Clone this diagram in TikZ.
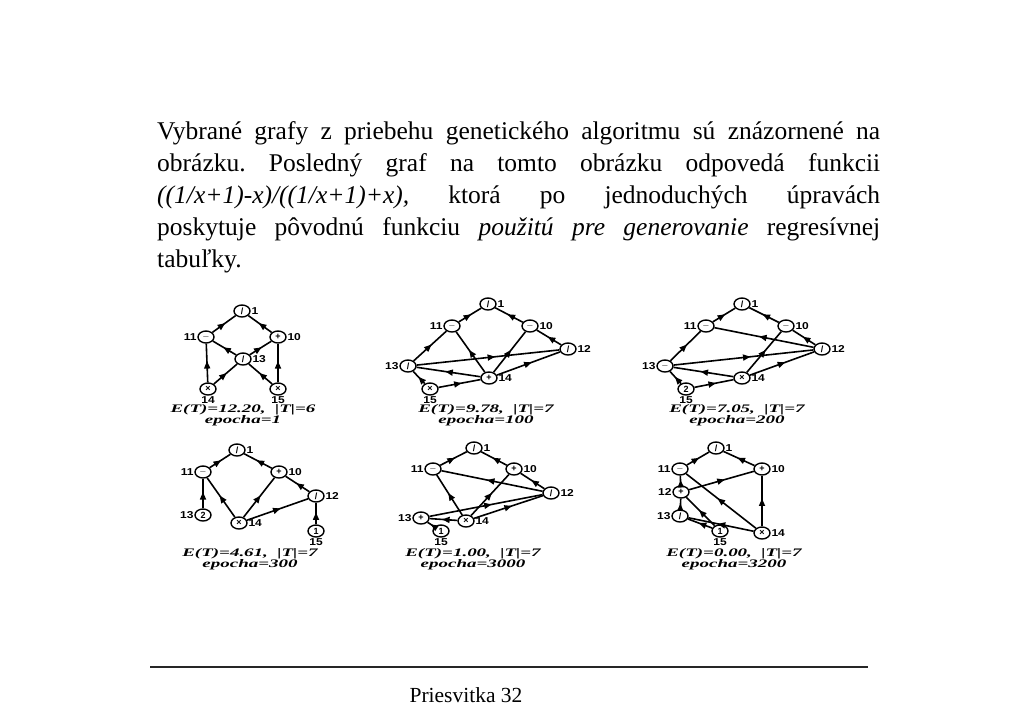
\documentclass[tikz,border=0pt]{standalone}
\usepackage{graphicx}
\usepackage{fontspec}
\setmainfont{Liberation Serif}
\setsansfont{Liberation Sans}
\frenchspacing
\usetikzlibrary{shapes.geometric,decorations.markings,arrows.meta}
\newcommand\lbx[1]{\scalebox{1.2}[1]{#1}}
\newcommand\capx[1]{\scalebox{1.65}[1]{#1}}
\tikzset{
  gn/.style={ellipse, draw, line width=1.4pt, minimum width=16pt, minimum height=12pt, inner sep=0pt, fill=white,
             font=\sffamily\bfseries\fontsize{9}{9}\selectfont},
  lab/.style={font=\sffamily\bfseries\fontsize{10}{10}\selectfont, inner sep=0.6pt},
  fl/.style={line width=1.6pt, postaction={decorate},
             decoration={markings, mark=at position 0.55 with {\arrow{Triangle[length=7.5pt,width=6pt]}}}},
  gcap/.style={font=\bfseries\itshape\fontsize{11.5}{11.5}\selectfont, inner sep=0pt},
  bodyline/.style={anchor=base west, inner sep=0pt, font=\fontsize{25.5}{30}\selectfont},
}
\begin{document}
\begin{tikzpicture}[x=1pt,y=-1pt]
\useasboundingbox (0,0) rectangle (1024,723);
% body text
\node[bodyline] (t1) at (157,139) {\makebox[723pt][s]{Vybrané grafy z priebehu genetického algoritmu sú znázornené na}};
\node[bodyline] (t2) at (157,171) {\makebox[723pt][s]{obrázku. Posledný graf na tomto obrázku odpovedá funkcii}};
\node[bodyline] (t3) at (157,203) {\makebox[723pt][s]{\itshape ((1/x+1)-x)/((1/x+1)+x), \upshape ktorá po jednoduchých úpravách}};
\node[bodyline] (t4) at (157,235) {\makebox[723pt][s]{poskytuje pôvodnú funkciu \itshape použitú pre generovanie \upshape regresívnej}};
\node[bodyline] (t5) at (157,267) {tabuľky.};

% ---------- Graph 1 ----------
\node[gn,label={[lab]right:\lbx{1}}] (a1) at (242,311) {/};
\node[gn,label={[lab]left:\lbx{11}}] (a11) at (206,337) {$-$};
\node[gn,label={[lab]right:\lbx{10}}] (a10) at (278,337) {+};
\node[gn,label={[lab]right:\lbx{13}}] (a13) at (243,359) {/};
\node[gn,label={[lab]below:\lbx{14}}] (a14) at (208,389) {×};
\node[gn,label={[lab]below:\lbx{15}}] (a15) at (278,389) {×};
\draw[fl] (a11) -- (a1);
\draw[fl] (a10) -- (a1);
\draw[fl] (a13) -- (a11);
\draw[fl] (a13) -- (a10);
\draw[fl] (a14) -- (a11);
\draw[fl] (a14) -- (a13);
\draw[fl] (a15) -- (a10);
\draw[fl] (a15) -- (a13);
\node[gcap] (ac1) at (243,410) {\capx{E(T)=12.20,\ \ |T|=6}};
\node[gcap] (ac2) at (243,421) {\capx{epocha=1}};

% ---------- Graph 2 ----------
\node[gn,label={[lab]right:\lbx{1}}] (b1) at (488,304) {/};
\node[gn,label={[lab]left:\lbx{11}}] (b11) at (452,326) {$-$};
\node[gn,label={[lab]right:\lbx{10}}] (b10) at (530,326) {$-$};
\node[gn,label={[lab]right:\lbx{12}}] (b12) at (568,349) {/};
\node[gn,label={[lab]left:\lbx{13}}] (b13) at (408,366) {/};
\node[gn,label={[lab]right:\lbx{14}}] (b14) at (489,378) {+};
\node[gn,label={[lab]below:\lbx{15}}] (b15) at (430,389) {×};
\draw[fl] (b11) -- (b1);
\draw[fl] (b10) -- (b1);
\draw[fl] (b13) -- (b11);
\draw[fl] (b14) -- (b11);
\draw[fl] (b14) -- (b10);
\draw[fl] (b12) -- (b10);
\draw[fl] (b13) -- (b12);
\draw[fl] (b14) -- (b13);
\draw[fl] (b14) -- (b12);
\draw[fl] (b15) -- (b13);
\draw[fl] (b15) -- (b14);
\node[gcap] (bc1) at (486,410) {\capx{E(T)=9.78,\ \ |T|=7}};
\node[gcap] (bc2) at (486,421) {\capx{epocha=100}};

% ---------- Graph 3 ----------
\node[gn,label={[lab]right:\lbx{1}}] (c1) at (742,304) {/};
\node[gn,label={[lab]left:\lbx{11}}] (c11) at (706,326) {$-$};
\node[gn,label={[lab]right:\lbx{10}}] (c10) at (786,326) {$-$};
\node[gn,label={[lab]right:\lbx{12}}] (c12) at (822,349) {/};
\node[gn,label={[lab]left:\lbx{13}}] (c13) at (665,366) {$-$};
\node[gn,label={[lab]right:\lbx{14}}] (c14) at (742,378) {×};
\node[gn,label={[lab]below:\lbx{15}}] (c15) at (686,389) {2};
\draw[fl] (c11) -- (c1);
\draw[fl] (c10) -- (c1);
\draw[fl] (c13) -- (c11);
\draw[fl] (c12) -- (c11);
\draw[fl] (c12) -- (c10);
\draw[fl] (c13) -- (c12);
\draw[fl] (c14) -- (c10);
\draw[fl] (c14) -- (c13);
\draw[fl] (c14) -- (c12);
\draw[fl] (c15) -- (c13);
\draw[fl] (c15) -- (c14);
\node[gcap] (cc1) at (737,410) {\capx{E(T)=7.05,\ \ |T|=7}};
\node[gcap] (cc2) at (737,421) {\capx{epocha=200}};

% ---------- Graph 4 ----------
\node[gn,label={[lab]right:\lbx{1}}] (d1) at (237,450) {/};
\node[gn,label={[lab]left:\lbx{11}}] (d11) at (203,472) {$-$};
\node[gn,label={[lab]right:\lbx{10}}] (d10) at (279,472) {+};
\node[gn,label={[lab]right:\lbx{12}}] (d12) at (316,496) {/};
\node[gn,label={[lab]left:\lbx{13}}] (d13) at (203,515) {2};
\node[gn,label={[lab]right:\lbx{14}}] (d14) at (239,523) {×};
\node[gn,label={[lab]below:\lbx{15}}] (d15) at (316,531) {1};
\draw[fl] (d11) -- (d1);
\draw[fl] (d10) -- (d1);
\draw[fl] (d12) -- (d10);
\draw[fl] (d14) -- (d11);
\draw[fl] (d14) -- (d10);
\draw[fl] (d14) -- (d12);
\draw[fl] (d13) -- (d11);
\draw[fl] (d15) -- (d12);
\node[gcap] (dc1) at (250,554) {\capx{E(T)=4.61,\ \ |T|=7}};
\node[gcap] (dc2) at (250,565) {\capx{epocha=300}};

% ---------- Graph 5 ----------
\node[gn,label={[lab]right:\lbx{1}}] (e1) at (474,448) {/};
\node[gn,label={[lab]left:\lbx{11}}] (e11) at (433,469) {$-$};
\node[gn,label={[lab]right:\lbx{10}}] (e10) at (514,469) {+};
\node[gn,label={[lab]right:\lbx{12}}] (e12) at (551,493) {/};
\node[gn,label={[lab]left:\lbx{13}}] (e13) at (421,518) {+};
\node[gn,label={[lab]right:\lbx{14}}] (e14) at (466,521) {×};
\node[gn,label={[lab]below:\lbx{15}}] (e15) at (441,531) {1};
\draw[fl] (e11) -- (e1);
\draw[fl] (e10) -- (e1);
\draw[fl] (e12) -- (e10);
\draw[fl] (e12) -- (e11);
\draw[fl] (e14) -- (e11);
\draw[fl] (e14) -- (e10);
\draw[fl] (e14) -- (e12);
\draw[fl] (e13) -- (e12);
\draw[fl] (e14) -- (e13);
\draw[fl] (e15) -- (e13);
\node[gcap] (ec1) at (473,554) {\capx{E(T)=1.00,\ \ |T|=7}};
\node[gcap] (ec2) at (473,565) {\capx{epocha=3000}};

% ---------- Graph 6 ----------
\node[gn,label={[lab]right:\lbx{1}}] (f1) at (716,448) {/};
\node[gn,label={[lab]left:\lbx{11}}] (f11) at (680,469) {$-$};
\node[gn,label={[lab]right:\lbx{10}}] (f10) at (762,469) {+};
\node[gn,label={[lab]left:\lbx{12}}] (f12) at (681,492) {+};
\node[gn,label={[lab]left:\lbx{13}}] (f13) at (680,516) {/};
\node[gn,label={[lab]below:\lbx{15}}] (f15) at (720,531) {1};
\node[gn,label={[lab]right:\lbx{14}}] (f14) at (762,533) {×};
\draw[fl] (f11) -- (f1);
\draw[fl] (f10) -- (f1);
\draw[fl] (f12) -- (f11);
\draw[fl] (f12) -- (f10);
\draw[fl] (f14) -- (f11);
\draw[fl] (f14) -- (f10);
\draw[fl] (f13) -- (f12);
\draw[fl] (f15) -- (f12);
\draw[fl] (f14) -- (f13);
\draw[fl] (f15) -- (f13);
\node[gcap] (fc1) at (734,554) {\capx{E(T)=0.00,\ \ |T|=7}};
\node[gcap] (fc2) at (734,565) {\capx{epocha=3200}};

% footer
\coordinate (r1) at (150,667);
\coordinate (r2) at (868,667);
\draw[line width=2.2pt, black!85] (r1) -- (r2);
\node[font=\fontsize{21.5}{25}\selectfont, inner sep=0pt] (foot) at (466,695) {Priesvitka 32};
\end{tikzpicture}
\end{document}
